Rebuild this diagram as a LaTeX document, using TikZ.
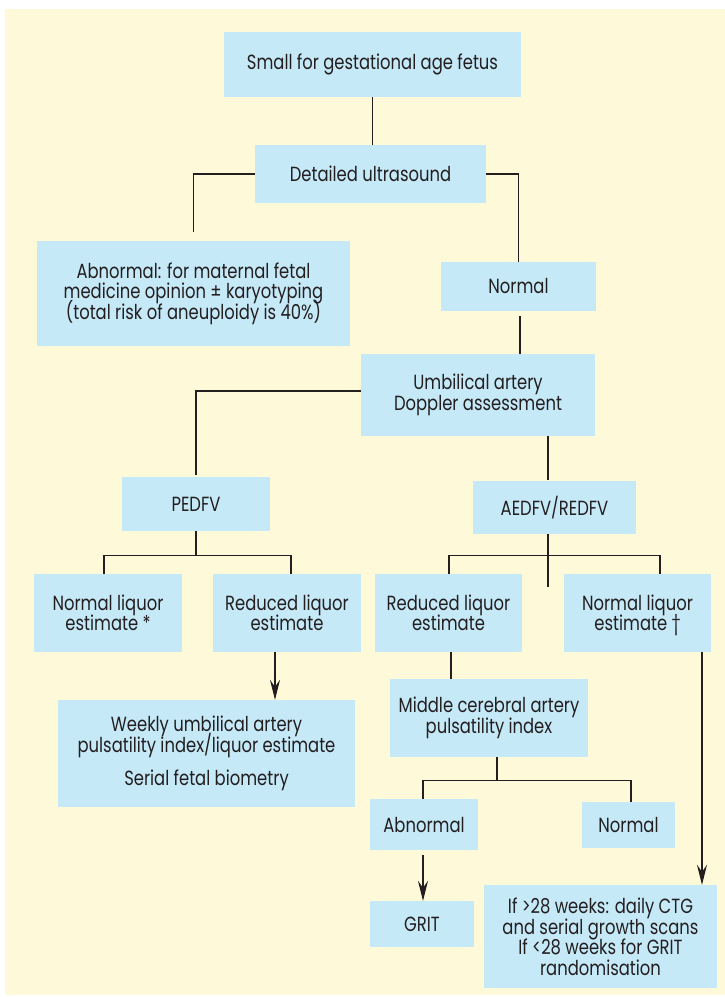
\documentclass[tikz,border=0pt]{standalone}
\usepackage{fontspec}
\setmainfont{Poppins}[FakeStretch=0.8]
\usepackage{xcolor}
\usepackage{tikz}
\usetikzlibrary{arrows.meta,positioning,calc}
\definecolor{paper}{HTML}{FEF9D8}
\definecolor{boxblue}{HTML}{C6E9F8}
\definecolor{ink}{HTML}{231F20}
\setlength{\lineskiplimit}{-20pt}

\begin{document}
\begin{tikzpicture}[x=1pt, y=-1pt, font=\fontsize{20.5}{20.5}\selectfont, box/.style={fill=boxblue, text=ink, align=center, inner sep=0pt}, link/.style={draw=ink, line width=1.2pt}, arr/.style={link, -{Stealth[length=20pt, width=10pt, inset=7pt]}}]
\useasboundingbox (0,0) rectangle (725,997);
\fill[paper] (4.6,9) rectangle (725,995);
\node[box, minimum width=297pt, minimum height=65pt] (sga) at (372.5,64.5) {Small for gestational age fetus};
\node[box, minimum width=231pt, minimum height=58pt] (detail) at (370.5,174) {Detailed ultrasound};
\node[box, minimum width=313pt, minimum height=105pt] (abn) at (193.5,293.5) {Abnormal: for maternal fetal\\medicine opinion ± karyotyping\\(total risk of aneuploidy is 40\%)};
\node[box, minimum width=155pt, minimum height=49pt] (normal) at (518.5,286.5) {Normal};
\node[box, minimum width=234pt, minimum height=82pt] (uadop) at (478,395) {Umbilical artery\\Doppler assessment};
\node[box, minimum width=148pt, minimum height=54pt] (pedfv) at (196,504) {PEDFV};
\node[box, minimum width=163pt, minimum height=53pt] (aedfv) at (554.5,507.5) {AEDFV/REDFV};
\node[box, minimum width=148pt, minimum height=78pt] (nlqa) at (108,613) {Normal liquor\\estimate *};
\node[box, minimum width=148pt, minimum height=78pt] (rlqa) at (287,613) {Reduced liquor\\estimate};
\node[box, minimum width=147pt, minimum height=78pt] (rlqb) at (448.5,613) {Reduced liquor\\estimate};
\node[box, minimum width=147pt, minimum height=78pt] (nlqb) at (637.5,613) {Normal liquor\\estimate \smash{\textdagger}};
\node[box, minimum width=297pt, minimum height=107pt] (weekly) at (206.5,753.5) {Weekly umbilical artery\\pulsatility index/liquor estimate\\[13pt]Serial fetal biometry};
\node[box, minimum width=198pt, minimum height=78pt] (mca) at (489,718) {Middle cerebral artery\\pulsatility index};
\node[box, minimum width=108pt, minimum height=51pt] (abnb) at (424,824.5) {Abnormal};
\node[box, minimum width=93pt, minimum height=46pt] (normb) at (628.5,825) {Normal};
\node[box, minimum width=104pt, minimum height=46pt] (grit) at (422,924) {GRIT};
\node[box, minimum width=233pt, minimum height=103pt] (final) at (600.5,936.5) {If >28 weeks: daily CTG\\and serial growth scans\\If <28 weeks for GRIT\\randomisation};
\coordinate (forka) at ($(pedfv.south)+(0,24)$);
\coordinate (forkb) at ($([xshift=-6.5pt]aedfv.south)+(0,21)$);
\coordinate (stubb) at ($([xshift=-6.5pt]aedfv.south)+(0,53)$);
\coordinate (forkc) at ($([xshift=8pt]mca.south)+(0,23)$);
\draw[link] (sga.south) -- (sga.south |- detail.north);
\draw[link, shorten >=9pt] (detail.west) -| (abn.north);
\draw[link] (detail.east) -| (normal.north);
\draw[link, shorten <=5pt] ([xshift=1.5pt]normal.south) -- ([xshift=1.5pt]normal.south |- uadop.north);
\draw[link, shorten >=2pt] ([yshift=4pt]uadop.west) -| (pedfv.north);
\draw[link, shorten >=1pt] ([xshift=-6.5pt]aedfv.north |- uadop.south) -- ([xshift=-6.5pt]aedfv.north);
\draw[link] (pedfv.south) -- (forka);
\draw[link] ([xshift=-4pt]nlqa.north) |- (forka) -| ([xshift=4pt]rlqa.north);
\draw[link] ([xshift=-6.5pt]aedfv.south) -- (stubb);
\draw[link] ([xshift=0.5pt]rlqb.north) |- (forkb) -| ([xshift=22.5pt]nlqb.north);
\draw[arr] ([xshift=-12pt]rlqa.south) -- ([xshift=-12pt]rlqa.south |- weekly.north);
\draw[link] ([xshift=2.5pt]rlqb.south) -- ([xshift=2.5pt]rlqb.south |- mca.north);
\draw[arr] ([xshift=64.5pt]nlqb.south) -- ([xshift=64.5pt]nlqb.south |- final.north);
\draw[link] ([xshift=8pt]mca.south) -- (forkc);
\draw[link] ([xshift=-1pt]abnb.north) |- (forkc) -| ([xshift=2.5pt]normb.north);
\draw[arr, shorten <=5pt] ([xshift=-1pt]abnb.south) -- ([xshift=-1pt]abnb.south |- grit.north);
\end{tikzpicture}
\end{document}
